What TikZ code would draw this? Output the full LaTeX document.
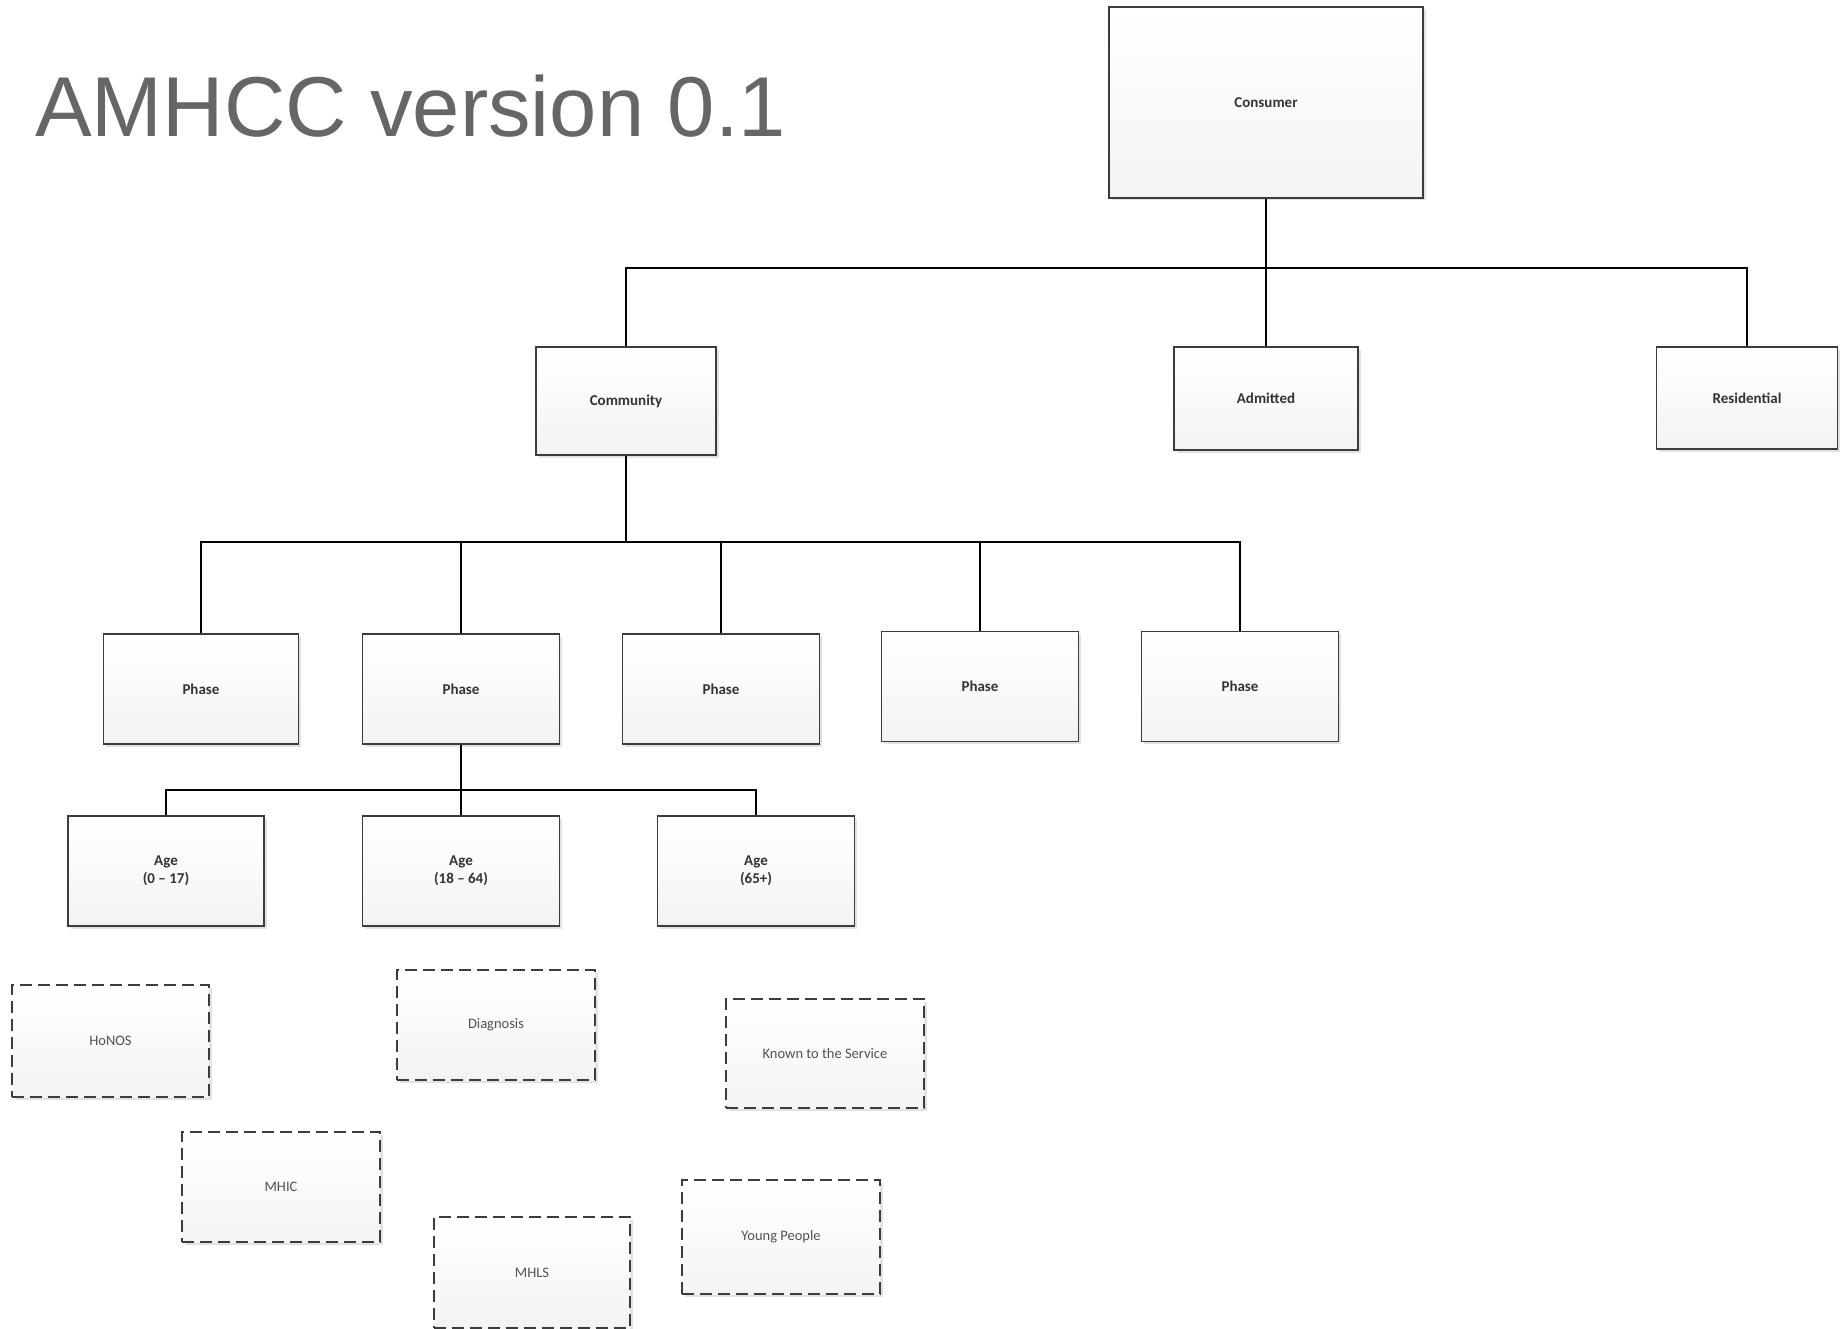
\documentclass[tikz,border=0pt]{standalone}
\usepackage{fontspec}
\setmainfont{Carlito}
\newfontfamily\titlefont{Liberation Sans}
\usetikzlibrary{shadows}

\definecolor{edgegray}{HTML}{3C3C3C}
\definecolor{fillbottom}{HTML}{F4F2F4}
\definecolor{titlegray}{HTML}{666666}
\definecolor{labelgray}{HTML}{333333}

\tikzset{
  box/.style={draw=edgegray, line width=1.6pt, top color=white, bottom color=fillbottom,
    middle color=fillbottom!40, shading angle=0,
    drop shadow={shadow xshift=2.5pt, shadow yshift=-2.5pt, fill=black!14, opacity=0.8},
    inner sep=2pt, align=center, font=\fontsize{15}{18}\selectfont\bfseries, text=labelgray},
  solidbox/.style={box},
  dashbox/.style={box, line width=1.6pt, dash pattern=on 12pt off 6pt,
    font=\fontsize{14.5}{17}\selectfont, text=labelgray!85},
  link/.style={draw=black, line width=1.5pt},
}

\begin{document}
\begin{tikzpicture}[x=1pt, y=-1pt]
\useasboundingbox[fill=white] (0,0) rectangle (1843,1329);

% title
\node[anchor=base west, inner sep=0pt, text=titlegray, font=\titlefont\fontsize{85}{90}\selectfont]
  (title) at (35,137) {AMHCC version 0.1};

% top level
\node[solidbox, minimum width=314pt, minimum height=191pt] (cons) at (1266,102.5) {Consumer};

% second level
\node[solidbox, minimum width=180pt, minimum height=108pt] (comm) at (626,401) {Community};
\node[solidbox, minimum width=184pt, minimum height=103pt] (adm) at (1266,398.5) {Admitted};
\node[solidbox, minimum width=181pt, minimum height=102pt] (res) at (1747,398) {Residential};

% phases under community
\node[solidbox, minimum width=195pt, minimum height=110pt] (ph1) at (201,689) {Phase};
\node[solidbox, minimum width=197pt, minimum height=110pt] (ph2) at (461,689) {Phase};
\node[solidbox, minimum width=197pt, minimum height=110pt] (ph3) at (721,689) {Phase};
\node[solidbox, minimum width=197pt, minimum height=110pt] (ph4) at (980,686.5) {Phase};
\node[solidbox, minimum width=197pt, minimum height=110pt] (ph5) at (1240,686.5) {Phase};

% age groups under the second phase
\node[solidbox, minimum width=196pt, minimum height=110pt] (ag1) at (166,871) {Age\\(0 -- 17)};
\node[solidbox, minimum width=197pt, minimum height=110pt] (ag2) at (461,871) {Age\\(18 -- 64)};
\node[solidbox, minimum width=197pt, minimum height=110pt] (ag3) at (756,871) {Age\\(65+)};

% unattached attributes
\node[dashbox, minimum width=197pt, minimum height=112pt] (honos) at (110.5,1041) {HoNOS};
\node[dashbox, minimum width=198pt, minimum height=110pt] (diag) at (496,1025) {Diagnosis};
\node[dashbox, minimum width=198pt, minimum height=109pt] (known) at (825,1053.5) {Known to the Service};
\node[dashbox, minimum width=198pt, minimum height=110pt] (mhic) at (281,1187) {MHIC};
\node[dashbox, minimum width=196pt, minimum height=111pt] (mhls) at (532,1272.5) {MHLS};
\node[dashbox, minimum width=198pt, minimum height=114pt] (young) at (781,1237) {Young People};

% bus junctions
\coordinate (bus1) at (1266,268);
\coordinate (bus2) at (626,542);
\coordinate (bus3) at (461,790);

% connectors
\draw[link] (cons.south) -- (bus1);
\draw[link] (comm.north) |- (bus1) -| (res.north);
\draw[link] (adm.north) -- (adm.north |- bus1);

\draw[link] (comm.south) -- (bus2);
\draw[link] (ph1.north) |- (bus2) -| (ph5.north);
\draw[link] (ph2.north) -- (ph2.north |- bus2);
\draw[link] (ph3.north) -- (ph3.north |- bus2);
\draw[link] (ph4.north) -- (ph4.north |- bus2);

\draw[link] (ph2.south) -- (bus3);
\draw[link] (ag1.north) |- (bus3) -| (ag3.north);
\draw[link] (ag2.north) -- (ag2.north |- bus3);
\end{tikzpicture}
\end{document}
